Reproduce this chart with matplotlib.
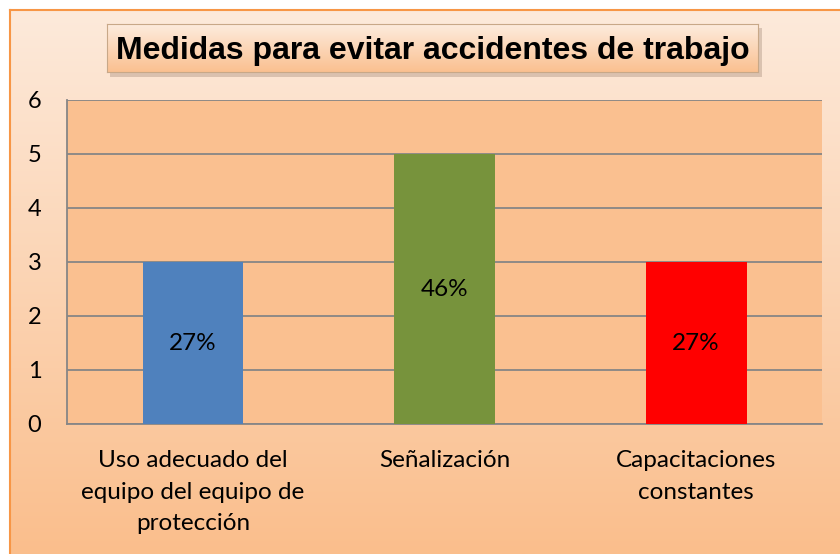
import numpy as np
import matplotlib
matplotlib.use("Agg")
import matplotlib.pyplot as plt
from matplotlib.lines import Line2D

categories = ["Uso adecuado del\nequipo del equipo de\nprotección", "Señalización", "Capacitaciones\nconstantes"]
values = [3, 5, 3]
pct_labels = ["27%", "46%", "27%"]
bar_colors = ["#4F81BD", "#77933C", "#FF0000"]
title = "Medidas para evitar accidentes de trabajo"

W, H = 840, 554
fig = plt.figure(figsize=(W / 100, H / 100), dpi=100)
fig.patch.set_facecolor("white")

def fx(px):
    return px / W

def fy(py):
    return 1 - py / H

# outer gradient background
bg = fig.add_axes([fx(10), 0, 1 - fx(10), fy(10)], zorder=-10)
top = np.array([253, 234, 219]) / 255
bot = np.array([250, 190, 140]) / 255
t = np.linspace(0, 1, 256)[:, None]
grad = top[None, :] * (1 - t) + bot[None, :] * t
bg.imshow(grad[:, None, :], aspect="auto", extent=[0, 1, 0, 1])
bg.axis("off")

# border
fig.add_artist(Line2D([fx(10), fx(10)], [0, fy(10)], color="#F79646", lw=1.5, transform=fig.transFigure))
fig.add_artist(Line2D([fx(10), 1], [fy(10), fy(10)], color="#F79646", lw=1.5, transform=fig.transFigure))

# plot area
ax = fig.add_axes([fx(67), fy(424), fx(822) - fx(67), fy(100) - fy(424)])
ax.set_facecolor("#FAC090")
x = np.arange(len(categories))
ax.bar(x, values, width=0.4, color=bar_colors, zorder=3)
ax.set_xlim(-0.5, 2.5)
ax.set_ylim(0, 6)
ax.set_yticks(range(0, 7))
ax.yaxis.grid(True, color="#868686", lw=1.3, zorder=1)
ax.set_axisbelow(True)
for s in ["top", "right"]:
    ax.spines[s].set_visible(False)
for s in ["left", "bottom"]:
    ax.spines[s].set_color("#868686")
    ax.spines[s].set_linewidth(1.3)
ax.tick_params(axis="y", length=0, pad=18.5, labelsize=17)
ax.tick_params(axis="x", length=0, pad=19, labelsize=17.5)
ax.set_xticks(x)
ax.set_xticklabels(categories, fontfamily="Lato", linespacing=1.62, va="top")
for lab in ax.get_yticklabels():
    lab.set_fontfamily("Lato")
for xi, v, p in zip(x, values, pct_labels):
    ax.text(xi, v / 2, p, ha="center", va="center", fontsize=17.5, fontfamily="Lato", zorder=4)

# title box with shadow
shadow = fig.add_axes([fx(110), fy(77), fx(762) - fx(110), fy(28) - fy(77)], zorder=1)
shadow.set_facecolor((0.55, 0.45, 0.38, 0.3))
shadow.set_xticks([]); shadow.set_yticks([])
for s in shadow.spines.values():
    s.set_visible(False)
tb = fig.add_axes([fx(107), fy(72), fx(758) - fx(107), fy(24) - fy(72)], zorder=2)
ttop = np.array([253, 236, 222]) / 255
tbot = np.array([250, 192, 144]) / 255
g2 = ttop[None, :] * (1 - t) + tbot[None, :] * t
tb.imshow(g2[:, None, :], aspect="auto", extent=[0, 1, 0, 1])
tb.set_xticks([]); tb.set_yticks([])
for s in tb.spines.values():
    s.set_color("#C8A888")
    s.set_linewidth(0.8)
tb.text(0.5, 0.44, title, ha="center", va="center", fontsize=23, fontweight="bold",
        fontfamily="Liberation Sans", transform=tb.transAxes)

fig.savefig("out.png", dpi=100)
